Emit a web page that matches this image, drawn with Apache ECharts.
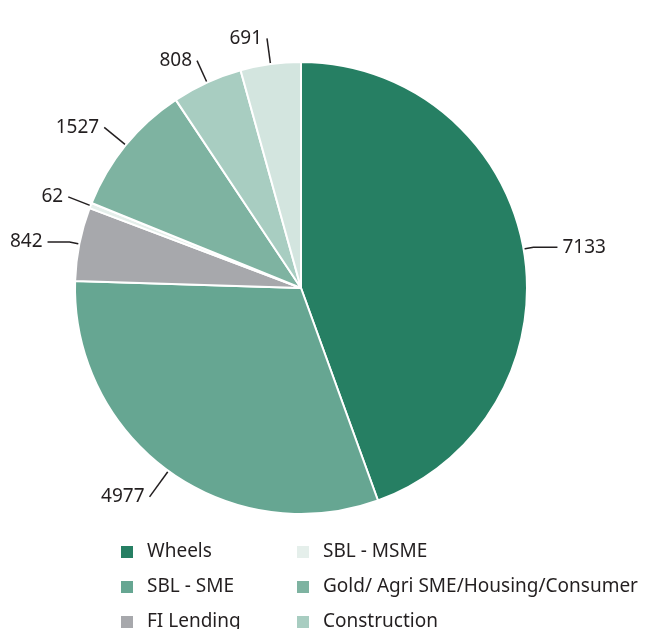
<!DOCTYPE html>
<html>
<head>
<meta charset="utf-8">
<script src="https://cdn.jsdelivr.net/npm/echarts@6/dist/echarts.min.js"></script>
<style>
  html, body { margin: 0; padding: 0; background: #fff; }
  #chart { width: 652px; height: 629px; }
</style>
</head>
<body>
<div id="chart"></div>
<script>
// slice order clockwise from 12 o'clock
const categories = ['Wheels', 'SBL - SME', 'FI Lending', 'SBL - MSME',
    'Gold/ Agri SME/Housing/Consumer', 'Construction', 'Others'];
const values = [7133, 4977, 842, 62, 1527, 808, 691];
const colors = ['#267f63', '#66a692', '#a7a8ac', '#e5efeb', '#7eb3a1', '#a8cdc1', '#d3e5df'];

// legend columns (last slice's legend entry falls outside the picture)
const legendCol1 = ['Wheels', 'SBL - SME', 'FI Lending'];
const legendCol2 = ['SBL - MSME', 'Gold/ Agri SME/Housing/Consumer', 'Construction'];

// leader line shape per slice: [length, length2]
const lineShape = [[10, 24], [32, 0], [10, 22], [24, 0], [28, 0], [24, 0], [26, 0]];

const FONT = 'Noto Sans';
const chart = echarts.init(document.getElementById('chart'));

const legendBase = {
    orient: 'vertical',
    top: 537,
    height: 200,
    itemWidth: 14,
    itemHeight: 14,
    itemGap: 15,
    icon: 'rect',
    selectedMode: false,
    textStyle: {
        fontFamily: FONT,
        fontSize: 19,
        lineHeight: 20,
        color: '#231f20',
        padding: [0, 0, 0, 8]
    }
};

chart.setOption({
    animation: false,
    color: colors,
    legend: [
        Object.assign({}, legendBase, { left: 114, data: legendCol1 }),
        Object.assign({}, legendBase, { left: 290, data: legendCol2 })
    ],
    series: [{
        type: 'pie',
        center: [301, 288],
        radius: 226,
        startAngle: 90,
        clockwise: true,
        avoidLabelOverlap: false,
        itemStyle: { borderColor: '#fff', borderWidth: 2 },
        label: {
            formatter: '{c}',
            fontFamily: FONT,
            fontSize: 19,
            color: '#231f20'
        },
        labelLine: {
            lineStyle: { color: '#231f20', width: 1.5 }
        },
        data: categories.map((name, i) => ({
            name: name,
            value: values[i],
            labelLine: { length: lineShape[i][0], length2: lineShape[i][1] }
        }))
    }]
});
</script>
</body>
</html>
